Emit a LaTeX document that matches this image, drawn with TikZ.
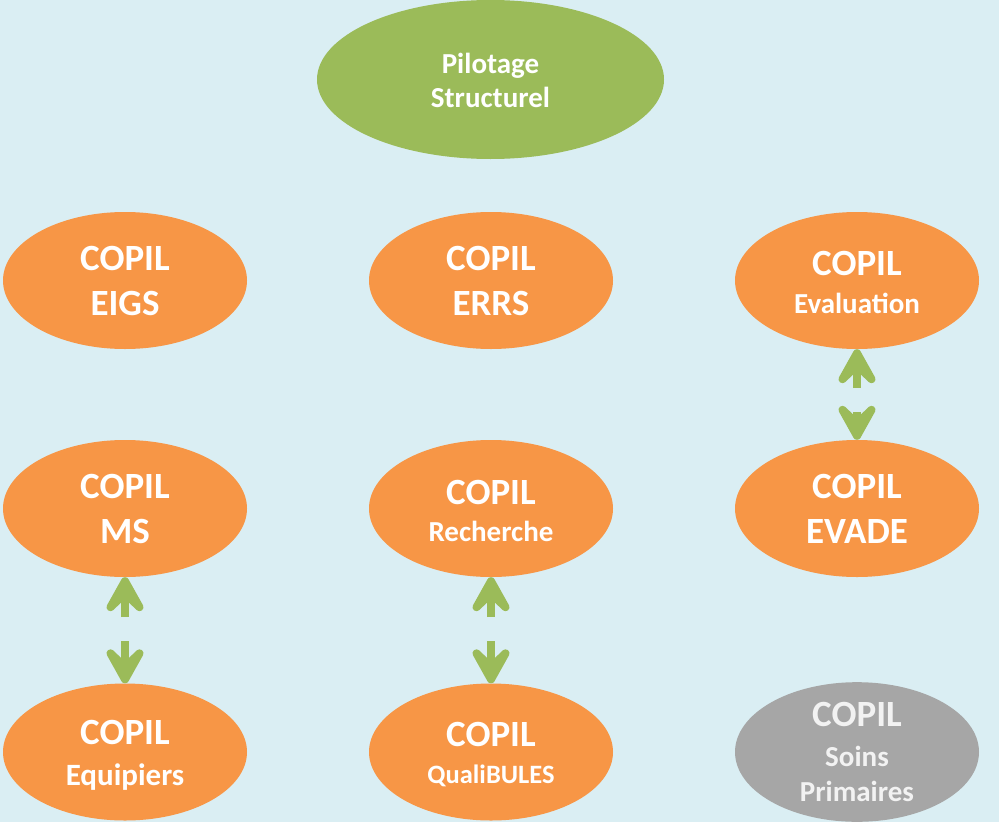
\documentclass[tikz,border=0pt]{standalone}
\usepackage{fontspec}
\setmainfont{Carlito}
\usetikzlibrary{shapes.geometric,calc}
\definecolor{bgblue}{HTML}{DAEEF3}
\definecolor{orangefill}{HTML}{F79646}
\definecolor{greenfill}{HTML}{9BBB59}
\definecolor{grayfill}{HTML}{A6A6A6}
\definecolor{softwhite}{HTML}{F2F2F2}
\newcommand\szA{\fontsize{37}{43}\selectfont}
\newcommand\szS[1]{\fontsize{#1}{36}\selectfont}
\newcommand\sv[1]{\rule{0pt}{#1pt}}
\newcommand\uphead[1]{\filldraw[headtip] ($(#1)+(0,4)$) -- ++(14.5,26) -- ++(-14.5,-14) -- ++(-14.5,14) -- cycle;}
\newcommand\downhead[1]{\filldraw[headtip] ($(#1)+(0,-4)$) -- ++(14.5,-26) -- ++(-14.5,14) -- ++(-14.5,-14) -- cycle;}
\begin{document}
\begin{tikzpicture}[x=1pt,y=-1pt,
  bubble/.style={ellipse, fill=orangefill, draw=none, minimum width=244pt,
    minimum height=137pt, inner sep=0pt, text=white, font=\bfseries,
    align=center, text depth=0pt},
  pilot/.style={bubble, fill=greenfill, minimum width=347pt, minimum height=159pt},
  greybubble/.style={bubble, fill=grayfill, text=softwhite},
  shaft/.style={draw=greenfill, line width=8pt},
  headtip/.style={fill=greenfill, draw=greenfill, line width=8pt, line join=round, line cap=round}
]
\fill[bgblue] (0,0) rectangle (999,822);
\useasboundingbox (0,0) rectangle (999,822);

\node[pilot] (pil) at (490.5,79.5) {\szS{29}\sv{22}Pilotage\\\szS{29}\sv{28}Structurel};

\node[bubble] (eigs) at (125,280.5) {\szA\sv{25}COPIL\\\szA\sv{43}EIGS};
\node[bubble] (errs) at (491,280.5) {\szA\sv{25}COPIL\\\szA\sv{43}ERRS};
\node[bubble] (eval) at (857,280.5) {\szA\sv{28}COPIL\\\szS{29}\sv{36}Evaluation};

\node[bubble] (ms) at (125,508.5) {\szA\sv{24}COPIL\\\szA\sv{44}MS};
\node[bubble] (rech) at (491,508.5) {\szA\sv{29}COPIL\\\szS{29}\sv{35}Recherche};
\node[bubble] (evade) at (857,508.5) {\szA\sv{24}COPIL\\\szA\sv{44}EVADE};

\node[bubble] (equip) at (125,752) {\szA\sv{26}COPIL\\\szS{31}\sv{39}Equipiers};
\node[bubble] (quali) at (491,752) {\szA\sv{26}COPIL\\\szS{26.5}\sv{35}QualiBULES};
\node[greybubble] (soins) at (857,752) {\szA\sv{22}COPIL\\\szS{29}\sv{38}Soins\\\szS{29}\sv{34}Primaires};

\coordinate (msup) at (125,617);
\coordinate (eqdn) at (125,641);
\coordinate (rcup) at (491,617);
\coordinate (qudn) at (491,641);
\coordinate (evup) at (857,388);
\coordinate (evdn) at (857,412);

\draw[shaft] (msup) -- ($(ms.south)+(0,20)$);
\uphead{ms.south}
\draw[shaft] (eqdn) -- ($(equip.north)+(0,-20)$);
\downhead{equip.north}
\draw[shaft] (rcup) -- ($(rech.south)+(0,20)$);
\uphead{rech.south}
\draw[shaft] (qudn) -- ($(quali.north)+(0,-20)$);
\downhead{quali.north}
\draw[shaft] (evup) -- ($(eval.south)+(0,20)$);
\uphead{eval.south}
\draw[shaft] (evdn) -- ($(evade.north)+(0,-20)$);
\downhead{evade.north}
\end{tikzpicture}
\end{document}
